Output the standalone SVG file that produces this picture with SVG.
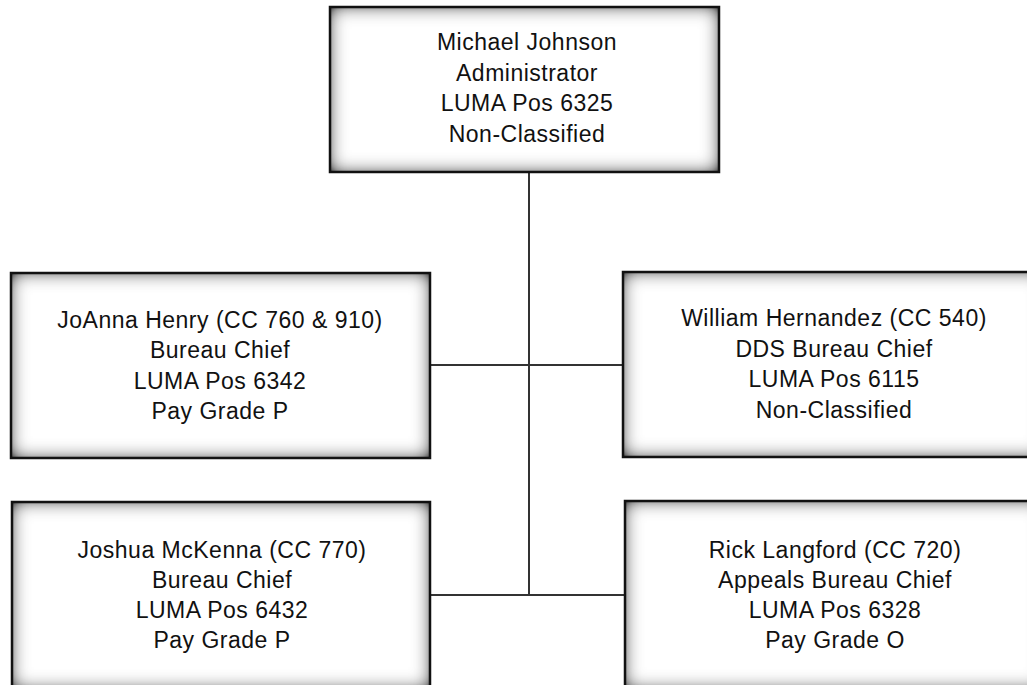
<svg xmlns="http://www.w3.org/2000/svg" width="1027" height="685" viewBox="0 0 1027 685">
  <defs>
    <!-- dark inner vignette along the inside of each box -->
    <filter id="inner" x="-15%" y="-30%" width="130%" height="160%">
      <feFlood flood-color="#1a1a1a" result="f"/>
      <feComposite in="f" in2="SourceAlpha" operator="out" result="frame"/>
      <feGaussianBlur in="frame" stdDeviation="9" result="blur"/>
      <feComponentTransfer in="blur" result="boost">
        <feFuncA type="linear" slope="1.35" intercept="0"/>
      </feComponentTransfer>
      <feComposite in="boost" in2="SourceAlpha" operator="in" result="shade"/>
      <feMerge>
        <feMergeNode in="SourceGraphic"/>
        <feMergeNode in="shade"/>
      </feMerge>
    </filter>
    <style>
      .box { fill: #fff; filter: url(#inner); }
      .edge { fill: none; stroke: #111; stroke-width: 2.5; }
      .lbl { font-family: "Liberation Sans", Arial, sans-serif; font-size: 23px; fill: #111; text-anchor: middle; letter-spacing: 0.5px; }
      .wire { stroke: #333; stroke-width: 2; fill: none; }
    </style>
  </defs>
  <rect width="1027" height="685" fill="#fff"/>

  <g id="connectors">
    <line class="wire" x1="529" y1="172" x2="529" y2="595"/>
    <line class="wire" x1="430" y1="365" x2="623" y2="365"/>
    <line class="wire" x1="430" y1="595" x2="625" y2="595"/>
  </g>

  <g id="administrator">
    <rect class="box" x="330" y="7" width="389" height="165"/>
    <rect class="edge" x="330" y="7" width="389" height="165"/>
    <text class="lbl" x="527" y="50">Michael Johnson</text>
    <text class="lbl" x="527" y="81">Administrator</text>
    <text class="lbl" x="527" y="111">LUMA Pos 6325</text>
    <text class="lbl" x="527" y="142">Non-Classified</text>
  </g>

  <g id="henry">
    <rect class="box" x="11" y="273" width="419" height="185"/>
    <rect class="edge" x="11" y="273" width="419" height="185"/>
    <text class="lbl" x="220" y="328">JoAnna Henry (CC 760 &amp; 910)</text>
    <text class="lbl" x="220" y="358">Bureau Chief</text>
    <text class="lbl" x="220" y="389">LUMA Pos 6342</text>
    <text class="lbl" x="220" y="419">Pay Grade P</text>
  </g>

  <g id="hernandez">
    <rect class="box" x="623" y="272" width="422" height="185"/>
    <rect class="edge" x="623" y="272" width="422" height="185"/>
    <text class="lbl" x="834" y="326">William Hernandez (CC 540)</text>
    <text class="lbl" x="834" y="357">DDS Bureau Chief</text>
    <text class="lbl" x="834" y="387">LUMA Pos 6115</text>
    <text class="lbl" x="834" y="418">Non-Classified</text>
  </g>

  <g id="mckenna">
    <rect class="box" x="12" y="502" width="418" height="187"/>
    <rect class="edge" x="12" y="502" width="418" height="187"/>
    <text class="lbl" x="222" y="558">Joshua McKenna (CC 770)</text>
    <text class="lbl" x="222" y="588">Bureau Chief</text>
    <text class="lbl" x="222" y="618">LUMA Pos 6432</text>
    <text class="lbl" x="222" y="648">Pay Grade P</text>
  </g>

  <g id="langford">
    <rect class="box" x="625" y="501" width="420" height="188"/>
    <rect class="edge" x="625" y="501" width="420" height="188"/>
    <text class="lbl" x="835" y="558">Rick Langford (CC 720)</text>
    <text class="lbl" x="835" y="588">Appeals Bureau Chief</text>
    <text class="lbl" x="835" y="618">LUMA Pos 6328</text>
    <text class="lbl" x="835" y="648">Pay Grade O</text>
  </g>
</svg>
